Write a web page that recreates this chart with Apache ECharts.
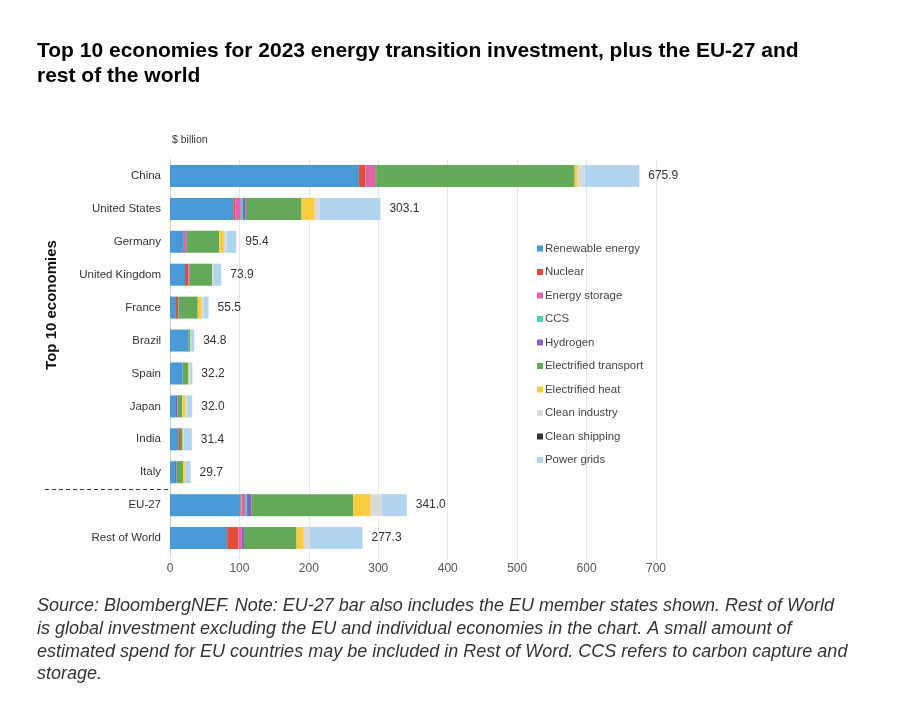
<!DOCTYPE html>
<html lang="en">
<head>
    <meta charset="utf-8">
    <title>Energy transition investment 2023</title>
    <style type="text/css">
        html, body { margin: 0; padding: 0; background: #fff; }
        .page { width: 918px; height: 721px; }
    </style>
</head>
<body>
<div id="page" class="page"></div>
<script src="https://cdn.jsdelivr.net/npm/echarts@6/dist/echarts.min.js"></script>
<script>
    // categories, top to bottom
    var economies = ['China', 'United States', 'Germany', 'United Kingdom', 'France', 'Brazil',
        'Spain', 'Japan', 'India', 'Italy', 'EU-27', 'Rest of World'];
    var totals = [675.9, 303.1, 95.4, 73.9, 55.5, 34.8, 32.2, 32.0, 31.4, 29.7, 341.0, 277.3];

    // $ billion
    var renewable = [272, 92, 20, 21.6, 8.6, 26.4, 18.2, 8.6, 12, 7.2, 101.7, 82.4];
    var nuclear = [9.5, 2, 0, 5, 1.5, 0, 0, 0, 2.4, 0, 1, 15.9];
    var storage = [15, 8, 3, 1, 0, 0, 0.5, 0, 0, 0, 5.3, 4.9];
    var ccs = [0, 3, 0, 0, 0, 0, 0, 0, 0, 0, 3, 0];
    var hydrogen = [0.4, 4, 1, 0, 2, 0, 0, 2.4, 0, 2.4, 6.5, 3.3];
    var transport = [286, 80.5, 47, 33, 27.8, 2.4, 7.7, 6.8, 3.8, 9.6, 146.3, 75.8];
    var heat = [4, 19, 6.7, 0.5, 5.8, 0.5, 1.4, 3.8, 0.4, 2.4, 25.2, 10.5];
    var industry = [10, 7, 3.9, 1, 2.4, 0, 0.8, 2.4, 1.2, 1.4, 15.6, 8.6];
    var shipping = [0, 0, 0, 0, 0, 0, 0, 0, 0, 0, 0, 0];
    var grids = [79, 87.6, 13.8, 11.8, 7.4, 5.5, 3.6, 8, 11.6, 6.7, 36.4, 75.9];

    var xTicks = [0, 100, 200, 300, 400, 500, 600, 700];

    (function () {
        var layers = [
            {name: 'Renewable energy', data: renewable, color: '#4899d5'},
            {name: 'Nuclear', data: nuclear, color: '#e04e39'},
            {name: 'Energy storage', data: storage, color: '#e064a4'},
            {name: 'CCS', data: ccs, color: '#4fd1b5'},
            {name: 'Hydrogen', data: hydrogen, color: '#8a5fc7'},
            {name: 'Electrified transport', data: transport, color: '#63a957'},
            {name: 'Electrified heat', data: heat, color: '#f7cd3f'},
            {name: 'Clean industry', data: industry, color: '#d9d9d9'},
            {name: 'Clean shipping', data: shipping, color: '#333333'},
            {name: 'Power grids', data: grids, color: '#b1d5ee'}
        ];

        var font = 'Liberation Sans, Arial, sans-serif';

        var series = layers.map(function (l, i) {
            var s = {
                name: l.name,
                type: 'bar',
                stack: 'total',
                barWidth: 22,
                data: l.data,
                itemStyle: {color: l.color},
                emphasis: {disabled: true}
            };
            if (i === layers.length - 1) {
                // total at the end of each bar
                s.label = {
                    show: true,
                    position: 'right',
                    distance: 9,
                    color: '#333',
                    fontSize: 12,
                    fontFamily: font,
                    formatter: function (p) {
                        return totals[p.dataIndex].toFixed(1);
                    }
                };
            }
            return s;
        });

        var chart = echarts.init(document.getElementById('page'));
        var option = {
            animation: false,
            backgroundColor: '#fff',
            title: {
                text: 'Top 10 economies for 2023 energy transition investment, plus the EU-27 and\nrest of the world',
                left: 32,
                top: 34,
                textStyle: {
                    fontFamily: font,
                    fontSize: 21,
                    fontWeight: 'bold',
                    color: '#000',
                    lineHeight: 25
                }
            },
            legend: {
                orient: 'vertical',
                left: 532,
                top: 238,
                itemWidth: 6,
                itemHeight: 6,
                itemGap: 12.5,
                icon: 'rect',
                textStyle: {fontFamily: font, fontSize: 11.4, color: '#444', padding: [0, 0, 0, -3]},
                data: layers.map(function (l) { return l.name; })
            },
            grid: {
                left: 170,
                right: 262,
                top: 159.5,
                bottom: 166.5,
                containLabel: false
            },
            xAxis: {
                type: 'value',
                min: xTicks[0],
                max: xTicks[xTicks.length - 1],
                interval: 100,
                axisLine: {show: false},
                axisTick: {show: true, length: 5, lineStyle: {color: '#e6e6e6'}},
                axisLabel: {color: '#555', fontSize: 12, fontFamily: font, margin: 8},
                splitLine: {lineStyle: {color: '#e6e6e6'}}
            },
            yAxis: {
                type: 'category',
                inverse: true,
                data: economies,
                name: '$ billion',
                nameLocation: 'start',
                nameGap: 14,
                nameTextStyle: {
                    fontFamily: font, fontSize: 10.5, color: '#333',
                    align: 'left', padding: [0, 0, 0, 2]
                },
                axisLine: {lineStyle: {color: '#d0d0d0'}},
                axisTick: {show: false},
                axisLabel: {color: '#333', fontSize: 11.5, fontFamily: font, margin: 9}
            },
            graphic: [
                {
                    type: 'line',
                    shape: {x1: 45, y1: 489.5, x2: 168, y2: 489.5},
                    style: {stroke: '#333', lineWidth: 1.2, lineDash: [4, 3]}
                },
                {
                    type: 'text',
                    x: 52,
                    y: 305,
                    rotation: Math.PI / 2,
                    style: {
                        text: 'Top 10 economies',
                        fontFamily: font,
                        fontSize: 15,
                        fontWeight: 'bold',
                        fill: '#111',
                        align: 'center',
                        verticalAlign: 'middle'
                    }
                },
                {
                    type: 'text',
                    left: 37,
                    top: 595,
                    style: {
                        text: 'Source: BloombergNEF. Note: EU-27 bar also includes the EU member states shown. Rest of World\n' +
                            'is global investment excluding the EU and individual economies in the chart. A small amount of\n' +
                            'estimated spend for EU countries may be included in Rest of Word. CCS refers to carbon capture and\n' +
                            'storage.',
                        fontFamily: font,
                        fontSize: 18,
                        fontStyle: 'italic',
                        lineHeight: 22.6,
                        fill: '#333'
                    }
                }
            ],
            series: series
        };
        chart.setOption(option);
    })();
</script>
</body>
</html>
